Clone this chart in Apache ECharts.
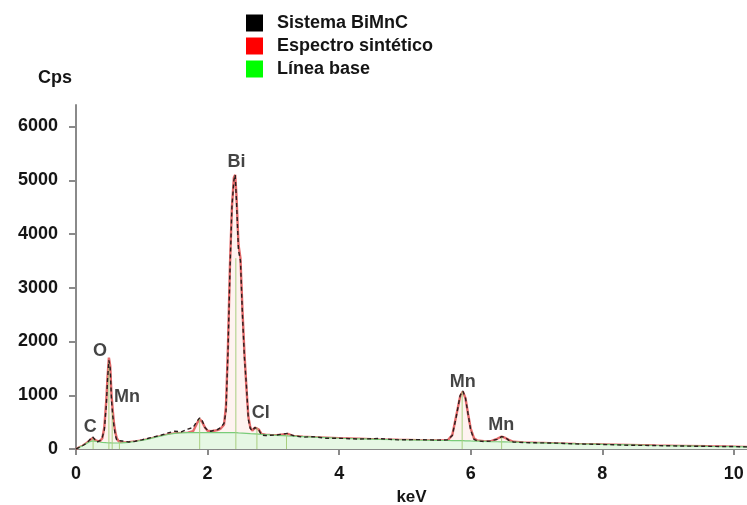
<!DOCTYPE html>
<html><head><meta charset="utf-8">
<script src="https://cdn.jsdelivr.net/npm/echarts@6/dist/echarts.min.js"></script>
<style>html,body{margin:0;padding:0;background:#fff}#c{width:747px;height:505px}</style>
</head><body><div id="c"></div>
<script>
const energy    = [0.00,0.05,0.10,0.15,0.20,0.25,0.28,0.32,0.36,0.40,0.43,0.46,0.48,0.50,0.52,0.54,0.56,0.58,0.60,0.62,0.65,0.70,0.80,0.90,1.00,1.10,1.20,1.30,1.40,1.50,1.60,1.70,1.78,1.84,1.88,1.92,1.96,2.00,2.05,2.10,2.15,2.20,2.25,2.28,2.31,2.34,2.37,2.40,2.42,2.44,2.47,2.50,2.53,2.56,2.59,2.62,2.65,2.68,2.72,2.75,2.78,2.82,2.88,2.95,3.05,3.15,3.22,3.30,3.45,3.60,3.80,4.00,4.30,4.60,4.90,5.20,5.50,5.65,5.72,5.78,5.84,5.88,5.92,5.96,6.00,6.05,6.10,6.20,6.30,6.40,6.47,6.52,6.58,6.65,6.80,7.00,7.30,7.60,8.00,8.40,8.80,9.20,9.60,10.00,10.20];
const measured  = [0,30,60,100,160,230,200,130,150,220,350,800,1300,1650,1500,900,600,400,250,160,130,150,130,145,170,200,230,260,300,330,320,370,400,520,580,520,400,350,330,350,360,400,480,700,1800,3300,4500,5000,5100,4600,3700,3500,2500,1700,1200,550,380,340,400,420,350,260,250,255,260,280,290,250,220,230,200,200,185,195,170,175,165,170,250,600,1000,1080,950,650,350,180,150,140,150,180,230,220,160,130,120,115,110,95,85,70,65,55,50,45,40];
const synthetic = [0,30,60,100,150,200,190,150,140,200,400,900,1350,1700,1550,1000,700,450,300,200,140,120,125,140,160,185,215,245,270,290,300,305,330,480,560,500,400,340,330,340,350,380,450,800,1900,3400,4500,5050,5100,4700,3800,3550,2600,1800,1150,600,400,340,400,410,360,280,265,260,255,270,280,245,230,220,210,200,190,180,172,165,160,160,260,620,980,1070,950,650,380,200,160,145,140,190,230,210,170,135,122,115,105,95,85,75,65,58,50,45,40];
const baseline  = [0,30,60,95,130,150,150,140,130,125,120,118,116,115,114,113,112,112,112,112,112,115,125,140,160,185,215,245,270,290,300,305,305,305,305,305,305,305,305,305,305,305,305,305,305,305,305,305,305,303,300,298,295,292,290,288,285,282,280,278,276,273,268,262,255,250,245,240,230,220,210,200,190,180,172,165,160,158,157,156,155,154,153,152,150,148,146,142,138,135,133,132,130,128,122,115,105,95,85,75,65,58,50,45,40];

const peakEnergy = [0.26,0.50,0.55,0.66,1.88,2.43,2.75,3.20,5.87,6.47];
const peakHeight = [200,1600,700,140,560,3550,400,280,1070,230];

const elementNames = ['C','O','Mn','Bi','Cl','Mn','Mn'];
const elementX = [0.218,0.363,0.774,2.438,2.808,5.878,6.465];
const elementY = [418,1823,958,5330,660,1253,448];

const xTicks = [0,2,4,6,8,10];
const yTicks = [0,1000,2000,3000,4000,5000,6000];
const legendNames = ['Sistema BiMnC','Espectro sintético','Línea base'];
const legendColors = ['#000000','#ff0000','#00ff00'];

const FONT = "'Liberation Sans', Arial, sans-serif";
const TXT = '#151515';
const chart = echarts.init(document.getElementById('c'), null, {renderer:'canvas'});
const pairs = arr => energy.map((e,i)=>[e, arr[i]]);

chart.setOption({
  animation:false,
  backgroundColor:'#fff',
  grid:{left:76, right:0, top:105, bottom:56, containLabel:false, outerBoundsMode:'none'},
  legend:{
    orient:'vertical', left:246, top:14, padding:0, itemWidth:17, itemHeight:17, itemGap:5,
    icon:'rect',
    data: legendNames.map((n,i)=>({name:n, itemStyle:{color:legendColors[i], borderWidth:0}})),
    textStyle:{fontFamily:FONT, fontSize:18, fontWeight:'bold', color:TXT, padding:[0,0,0,9]},
    selectedMode:false
  },
  xAxis:{
    type:'value', min:0, max:10.2,
    name:'keV', nameLocation:'middle', nameGap:40,
    nameTextStyle:{fontFamily:FONT, fontSize:17, fontWeight:'bold', color:TXT},
    axisLine:{show:true, onZero:false, lineStyle:{color:'#8a8a8a', width:2}},
    axisTick:{show:true, length:6, customValues:xTicks, lineStyle:{color:'#8a8a8a', width:2}},
    axisLabel:{customValues:xTicks, margin:16, fontFamily:FONT, fontSize:18, fontWeight:'bold', color:TXT, formatter:v=>String(v)},
    splitLine:{show:false}
  },
  yAxis:{
    type:'value', min:0, max:6400,
    name:'Cps', nameLocation:'end', nameGap:18,
    nameTextStyle:{fontFamily:FONT, fontSize:18, fontWeight:'bold', color:TXT, align:'right', padding:[0,4,0,0]},
    axisLine:{show:true, lineStyle:{color:'#8a8a8a', width:2}},
    axisTick:{show:true, length:7, customValues:yTicks, lineStyle:{color:'#8a8a8a', width:2}},
    axisLabel:{customValues:yTicks, margin:18, fontFamily:FONT, fontSize:18, fontWeight:'bold', color:TXT, formatter:v=>String(v)},
    splitLine:{show:false}
  },
  series:[
    {
      name:'Espectro sintético', type:'line', data:pairs(synthetic), showSymbol:false, symbol:'none',
      lineStyle:{color:'#e46a6a', width:2.4}, itemStyle:{color:'#ff0000'},
      areaStyle:{color:'rgba(250,205,195,0.35)'}, z:2
    },
    {
      name:'Línea base', type:'line', data:pairs(baseline), showSymbol:false, symbol:'none',
      lineStyle:{color:'#79cc79', width:1.2}, itemStyle:{color:'#00ff00'},
      areaStyle:{color:'#e6f7e4', opacity:1}, z:3
    },
    {
      name:'peaks', type:'custom', data:peakEnergy.map((e,i)=>[e, peakHeight[i]]), z:4,
      renderItem:(params, api)=>{
        const p0 = api.coord([api.value(0), 0]);
        const p1 = api.coord([api.value(0), api.value(1)]);
        return {type:'line', shape:{x1:p0[0], y1:p0[1], x2:p1[0], y2:p1[1]}, style:{stroke:'#a9cf7f', lineWidth:1}};
      }
    },
    {
      name:'Sistema BiMnC', type:'line', data:pairs(measured), showSymbol:false, symbol:'none',
      lineStyle:{color:'#2a1e1e', width:1.4, type:[4,3]}, itemStyle:{color:'#000'}, z:5
    },
    {
      name:'labels', type:'scatter', z:6, symbolSize:1, itemStyle:{color:'rgba(0,0,0,0)'},
      data: elementNames.map((n,i)=>({name:n, value:[elementX[i], elementY[i]]})),
      label:{show:true, position:'inside', formatter:'{b}', fontFamily:FONT, fontSize:18, fontWeight:'bold', color:TXT}
    }
  ]
});
</script></body></html>
